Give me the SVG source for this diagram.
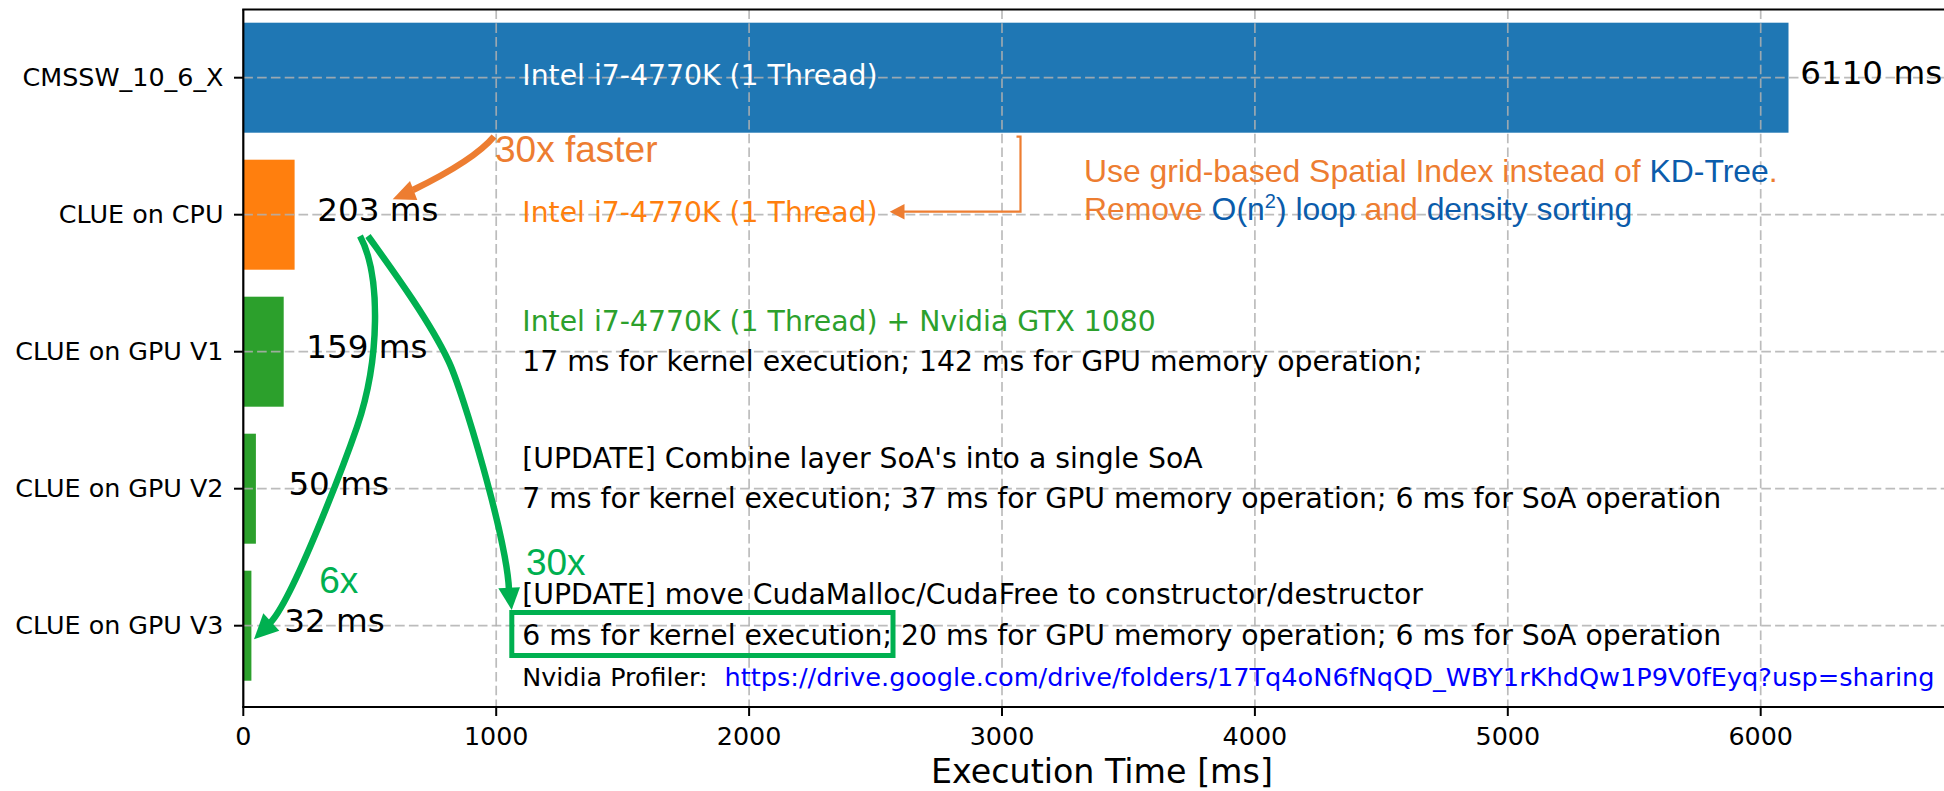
<svg xmlns="http://www.w3.org/2000/svg" width="1944" height="791" viewBox="0 0 1944 791">
  <defs>
    <style>
      .mpl { font-family: "DejaVu Sans", "Liberation Sans", sans-serif; }
      .office { font-family: "Liberation Sans", Arial, sans-serif; }
      .tick { font-size: 25.4px; fill: #000; }
      .note { font-size: 28.3px; }
      .val { font-size: 32.6px; fill: #000; }
      .grid { stroke: #b0b0b0; stroke-width: 1.7; stroke-dasharray: 9.6 4.2; opacity: 0.85; fill: none; }
      .spine { stroke: #000; stroke-width: 2.2; fill: none; }
      .tk { stroke: #000; stroke-width: 2; }
      .orange { fill: #ED7D31; }
      .blue { fill: #0B5CAB; }
      .gline { stroke: #00B050; stroke-width: 6.5; fill: none; stroke-linecap: butt; }
      .ghead { fill: #00B050; }
    </style>
  </defs>

  <rect x="0" y="0" width="1944" height="791" fill="#ffffff"/>

  <!-- bars -->
  <g id="bar-cmssw">
    <rect x="243.3" y="22.7" width="1545.2" height="110" fill="#1f77b4"/>
  </g>
  <g id="bar-clue-cpu">
    <rect x="243.3" y="159.7" width="51.3" height="110" fill="#ff7f0e"/>
  </g>
  <g id="bar-clue-gpu-v1">
    <rect x="243.3" y="296.7" width="40.4" height="110" fill="#2ca02c"/>
  </g>
  <g id="bar-clue-gpu-v2">
    <rect x="243.3" y="433.7" width="12.6" height="110" fill="#2ca02c"/>
  </g>
  <g id="bar-clue-gpu-v3">
    <rect x="243.3" y="570.7" width="8.1" height="110" fill="#2ca02c"/>
  </g>

  <!-- grid -->
  <g id="grid">
    <line class="grid" x1="496.2" y1="9.5" x2="496.2" y2="707"/>
    <line class="grid" x1="749.1" y1="9.5" x2="749.1" y2="707"/>
    <line class="grid" x1="1002" y1="9.5" x2="1002" y2="707"/>
    <line class="grid" x1="1254.9" y1="9.5" x2="1254.9" y2="707"/>
    <line class="grid" x1="1507.8" y1="9.5" x2="1507.8" y2="707"/>
    <line class="grid" x1="1760.7" y1="9.5" x2="1760.7" y2="707"/>
    <line class="grid" x1="243.3" y1="77.7" x2="1944" y2="77.7"/>
    <line class="grid" x1="243.3" y1="214.7" x2="1944" y2="214.7"/>
    <line class="grid" x1="243.3" y1="351.7" x2="1944" y2="351.7"/>
    <line class="grid" x1="243.3" y1="488.7" x2="1944" y2="488.7"/>
    <line class="grid" x1="243.3" y1="625.7" x2="1944" y2="625.7"/>
  </g>

  <!-- axes -->
  <g id="axes">
    <line class="spine" x1="243.3" y1="9.5" x2="243.3" y2="707"/>
    <line class="spine" x1="242.2" y1="707" x2="1944" y2="707"/>
    <line class="spine" x1="242.2" y1="9.5" x2="1944" y2="9.5" stroke-width="2.6"/>
    <line class="tk" x1="234" y1="77.7" x2="243.3" y2="77.7"/>
    <line class="tk" x1="234" y1="214.7" x2="243.3" y2="214.7"/>
    <line class="tk" x1="234" y1="351.7" x2="243.3" y2="351.7"/>
    <line class="tk" x1="234" y1="488.7" x2="243.3" y2="488.7"/>
    <line class="tk" x1="234" y1="625.7" x2="243.3" y2="625.7"/>
    <line class="tk" x1="243.3" y1="707" x2="243.3" y2="716"/>
    <line class="tk" x1="496.2" y1="707" x2="496.2" y2="716"/>
    <line class="tk" x1="749.1" y1="707" x2="749.1" y2="716"/>
    <line class="tk" x1="1002" y1="707" x2="1002" y2="716"/>
    <line class="tk" x1="1254.9" y1="707" x2="1254.9" y2="716"/>
    <line class="tk" x1="1507.8" y1="707" x2="1507.8" y2="716"/>
    <line class="tk" x1="1760.7" y1="707" x2="1760.7" y2="716"/>
    <g class="mpl tick" text-anchor="end">
      <text x="223.5" y="86.4">CMSSW_10_6_X</text>
      <text x="223.5" y="223.4">CLUE on CPU</text>
      <text x="223.5" y="360.4">CLUE on GPU V1</text>
      <text x="223.5" y="497.4">CLUE on GPU V2</text>
      <text x="223.5" y="634.4">CLUE on GPU V3</text>
    </g>
    <g class="mpl tick" text-anchor="middle">
      <text x="243.3" y="745">0</text>
      <text x="496.2" y="745">1000</text>
      <text x="749.1" y="745">2000</text>
      <text x="1002" y="745">3000</text>
      <text x="1254.9" y="745">4000</text>
      <text x="1507.8" y="745">5000</text>
      <text x="1760.7" y="745">6000</text>
    </g>
    <text class="mpl" x="1102" y="783" font-size="33.3" text-anchor="middle">Execution Time [ms]</text>
  </g>

  <!-- value labels -->
  <g id="values" class="mpl val">
    <text x="1800.2" y="84">6110 ms</text>
    <text x="317.3" y="221">203 ms</text>
    <text x="306.2" y="358.3">159 ms</text>
    <text x="288.4" y="495">50 ms</text>
    <text x="284.3" y="631.7">32 ms</text>
  </g>

  <!-- per-bar notes -->
  <g id="note-cmssw" class="mpl note">
    <text x="522.3" y="85" fill="#ffffff">Intel i7-4770K (1 Thread)</text>
  </g>
  <g id="note-cpu" class="mpl note">
    <text x="522.3" y="221.5" fill="#ff7f0e">Intel i7-4770K (1 Thread)</text>
  </g>
  <g id="note-gpu-v1" class="mpl note">
    <text x="522.3" y="331" fill="#2ca02c">Intel i7-4770K (1 Thread) + Nvidia GTX 1080</text>
    <text x="522.3" y="370.7" fill="#000">17 ms for kernel execution; 142 ms for GPU memory operation;</text>
  </g>
  <g id="note-gpu-v2" class="mpl note">
    <text x="522.3" y="468" fill="#000">[UPDATE] Combine layer SoA's into a single SoA</text>
    <text x="522.3" y="508" fill="#000">7 ms for kernel execution; 37 ms for GPU memory operation; 6 ms for SoA operation</text>
  </g>
  <g id="note-gpu-v3" class="mpl note">
    <text x="522.3" y="604" fill="#000">[UPDATE] move CudaMalloc/CudaFree to constructor/destructor</text>
    <text x="522.3" y="645" fill="#000">6 ms for kernel execution; 20 ms for GPU memory operation; 6 ms for SoA operation</text>
    <rect x="511.8" y="612.5" width="381.2" height="43" fill="none" stroke="#00B050" stroke-width="5"/>
  </g>
  <g id="note-profiler" class="mpl">
    <text x="522.3" y="686" font-size="25.4" fill="#000">Nvidia Profiler:</text>
    <text x="724.5" y="686" font-size="25.6" fill="#0000ff">https://drive.google.com/drive/folders/17Tq4oN6fNqQD_WBY1rKhdQw1P9V0fEyq?usp=sharing</text>
  </g>

  <!-- speed-up callouts -->
  <g id="callout-cpu" class="office">
    <text x="495" y="161.7" font-size="37" class="orange">30x faster</text>
    <text x="1084" y="181.7" font-size="31.9"><tspan class="orange">Use grid-based Spatial Index instead of </tspan><tspan class="blue">KD-Tree</tspan><tspan class="orange">.</tspan></text>
    <text x="1084" y="220" font-size="31.9"><tspan class="orange">Remove </tspan><tspan class="blue">O(n</tspan><tspan class="blue" font-size="20" dy="-12">2</tspan><tspan class="blue" dy="12">) loop</tspan><tspan class="orange"> and </tspan><tspan class="blue">density sorting</tspan></text>
  </g>
  <g id="callout-gpu" class="office">
    <text x="525.9" y="575" font-size="37" fill="#00B050">30x</text>
    <text x="319.3" y="593.3" font-size="37" fill="#00B050">6x</text>
  </g>

  <!-- connectors -->
  <g id="connectors">
    <!-- CMSSW -> CPU curved arrow -->
    <path d="M 494 136.5 C 481 152, 452 171, 413 190" stroke="#ED7D31" stroke-width="6.5" fill="none"/>
    <polygon points="392.7,199.3 410,181 417.3,200" fill="#ED7D31"/>
    <!-- bracket from CMSSW bar to CPU note -->
    <path d="M 1016.5 136.7 L 1020.5 136.7 L 1020.5 211.7 L 903 211.7" stroke="#ED7D31" stroke-width="2.2" fill="none"/>
    <polygon points="889.7,211.7 904.5,204 904.5,219.4" fill="#ED7D31"/>
    <!-- CPU -> GPU V3 (6x) -->
    <path class="gline" d="M 360 236 C 381 275, 380 360, 357 427 C 347 456, 293 600, 270 623"/>
    <polygon class="ghead" points="254,639.3 263.3,613.3 279.3,630.7"/>
    <!-- CPU -> GPU V3 kernel time (30x) -->
    <path class="gline" d="M 368 236 C 388 264, 428 318, 448 360 C 462 388, 507 540, 509 590"/>
    <polygon class="ghead" points="511.7,610 498.3,588.3 520,587.3"/>
  </g>
</svg>
